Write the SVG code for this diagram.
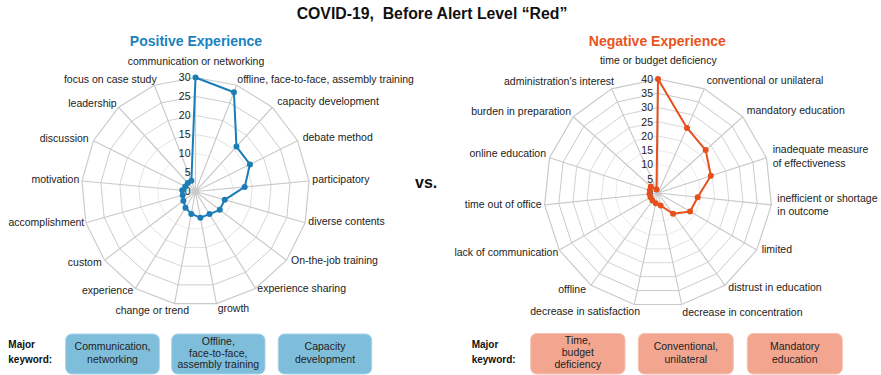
<svg xmlns="http://www.w3.org/2000/svg" xmlns:xlink="http://www.w3.org/1999/xlink" width="881" height="375" viewBox="0 0 881 375">
<style>
text{font-family:"Liberation Sans",Arial,Helvetica,sans-serif;fill:#222}
.t{font-size:15.8px;font-weight:bold;fill:#111;white-space:pre}
.h{font-size:14px;font-weight:bold}
.lb{font-size:10.5px}
.tk{font-size:10.5px;text-anchor:end}
.e{text-anchor:end}
.m{text-anchor:middle}
.g{fill:none;stroke:#c9c9c9;stroke-width:1;vector-effect:non-scaling-stroke}
.pos{fill:none;stroke:#1a7db7;stroke-width:2;stroke-linejoin:round}
.neg{fill:none;stroke:#e5501c;stroke-width:2;stroke-linejoin:round}
.kw{font-size:10px;font-weight:bold;fill:#111}
.bt{font-size:10.5px;text-anchor:middle;fill:#222}
.bb{fill:#7fbedb;stroke:#a8d3e8;stroke-width:1}
.br{fill:#f2a690;stroke:#f6c2b1;stroke-width:1}
</style>
<defs>
<polygon id="p17" points="0,-100 36.12,-93.25 67.37,-73.9 89.52,-44.57 99.57,-9.23 96.18,27.37 79.8,60.26 52.64,85.02 18.38,98.3 -18.38,98.3 -52.64,85.02 -79.8,60.26 -96.18,27.37 -99.57,-9.23 -89.52,-44.57 -67.37,-73.9 -36.12,-93.25"/>
<path id="s17" d="M0 0L0 -100M0 0L36.12 -93.25M0 0L67.37 -73.9M0 0L89.52 -44.57M0 0L99.57 -9.23M0 0L96.18 27.37M0 0L79.8 60.26M0 0L52.64 85.02M0 0L18.38 98.3M0 0L-18.38 98.3M0 0L-52.64 85.02M0 0L-79.8 60.26M0 0L-96.18 27.37M0 0L-99.57 -9.23M0 0L-89.52 -44.57M0 0L-67.37 -73.9M0 0L-36.12 -93.25"/>
<polygon id="p15" points="0,-100 40.67,-91.35 74.31,-66.91 95.11,-30.9 99.45,10.45 86.6,50 58.78,80.9 20.79,97.81 -20.79,97.81 -58.78,80.9 -86.6,50 -99.45,10.45 -95.11,-30.9 -74.31,-66.91 -40.67,-91.35"/>
<path id="s15" d="M0 0L0 -100M0 0L40.67 -91.35M0 0L74.31 -66.91M0 0L95.11 -30.9M0 0L99.45 10.45M0 0L86.6 50M0 0L58.78 80.9M0 0L20.79 97.81M0 0L-20.79 97.81M0 0L-58.78 80.9M0 0L-86.6 50M0 0L-99.45 10.45M0 0L-95.11 -30.9M0 0L-74.31 -66.91M0 0L-40.67 -91.35"/>
<circle id="dp" r="3" fill="#1a7db7"/>
<circle id="dn" r="3" fill="#e5501c"/>
</defs>
<rect width="881" height="375" fill="#fff"/>
<text class="t m" x="432" y="19">COVID-19,  Before Alert Level “Red”</text>

<g id="positive-chart">
<text class="h m" x="196" y="46" style="fill:#1a82bf">Positive Experience</text>
<g id="pos-grid" transform="translate(195.5 191.5)">
<use xlink:href="#s17" class="g" transform="scale(1.14)"/>
<use xlink:href="#p17" class="g" transform="scale(0.19)"/>
<use xlink:href="#p17" class="g" transform="scale(0.38)"/>
<use xlink:href="#p17" class="g" transform="scale(0.57)"/>
<use xlink:href="#p17" class="g" transform="scale(0.76)"/>
<use xlink:href="#p17" class="g" transform="scale(0.95)"/>
<use xlink:href="#p17" class="g" transform="scale(1.14)"/>
</g>
<g id="pos-ticks">
<text class="tk" x="190.5" y="195.3">0</text>
<text class="tk" x="190.5" y="176.3">5</text>
<text class="tk" x="190.5" y="157.3">10</text>
<text class="tk" x="190.5" y="138.3">15</text>
<text class="tk" x="190.5" y="119.3">20</text>
<text class="tk" x="190.5" y="100.3">25</text>
<text class="tk" x="190.5" y="81.3">30</text>
</g>
<g id="pos-series">
<polygon class="pos" points="195.5,77.5 233.94,92.29 236.46,146.57 249.93,164.4 244.69,186.94 224.74,199.82 219.76,209.82 209.5,214.12 200.39,217.65 191.31,213.91 185.5,207.65 183.37,200.66 182.71,195.14 182.26,190.27 185.3,186.42 187.82,183.08 191.38,180.87"/>
<use xlink:href="#dp" x="195.5" y="77.5"/><use xlink:href="#dp" x="233.94" y="92.29"/><use xlink:href="#dp" x="236.46" y="146.57"/><use xlink:href="#dp" x="249.93" y="164.4"/><use xlink:href="#dp" x="244.69" y="186.94"/><use xlink:href="#dp" x="224.74" y="199.82"/><use xlink:href="#dp" x="219.76" y="209.82"/><use xlink:href="#dp" x="209.5" y="214.12"/><use xlink:href="#dp" x="200.39" y="217.65"/><use xlink:href="#dp" x="191.31" y="213.91"/><use xlink:href="#dp" x="185.5" y="207.65"/><use xlink:href="#dp" x="183.37" y="200.66"/><use xlink:href="#dp" x="182.71" y="195.14"/><use xlink:href="#dp" x="182.26" y="190.27"/><use xlink:href="#dp" x="185.3" y="186.42"/><use xlink:href="#dp" x="187.82" y="183.08"/><use xlink:href="#dp" x="191.38" y="180.87"/>
</g>
<g id="pos-labels" class="lb">
<text class="lb m" x="196" y="65">communication or networking</text>
<text class="lb" x="237.3" y="82.7">offline, face-to-face, assembly training</text>
<text class="lb" x="277.3" y="105.3">capacity development</text>
<text class="lb" x="302.7" y="140.7">debate method</text>
<text class="lb" x="312.3" y="182.7">participatory</text>
<text class="lb" x="308.3" y="225.3">diverse contents</text>
<text class="lb" x="291" y="264">On-the-job training</text>
<text class="lb" x="257.3" y="292">experience sharing</text>
<text class="lb" x="217.7" y="312.3">growth</text>
<text class="lb e" x="189" y="314.3">change or trend</text>
<text class="lb e" x="133.3" y="294">experience</text>
<text class="lb e" x="101.7" y="266">custom</text>
<text class="lb e" x="84.3" y="226">accomplishment</text>
<text class="lb e" x="79.3" y="183.3">motivation</text>
<text class="lb e" x="88.7" y="142.3">discussion</text>
<text class="lb e" x="116.7" y="107.3">leadership</text>
<text class="lb e" x="156.7" y="83.3">focus on case study</text>
</g>
</g>

<text x="415" y="188.3" style="font-size:16px;font-weight:bold;fill:#111">vs.</text>

<g id="negative-chart">
<text class="h m" x="657.3" y="46" style="fill:#e8541e">Negative Experience</text>
<g id="neg-grid" transform="translate(658 193)">
<use xlink:href="#s15" class="g" transform="scale(1.14)"/>
<use xlink:href="#p15" class="g" transform="scale(0.1425)"/>
<use xlink:href="#p15" class="g" transform="scale(0.285)"/>
<use xlink:href="#p15" class="g" transform="scale(0.4275)"/>
<use xlink:href="#p15" class="g" transform="scale(0.57)"/>
<use xlink:href="#p15" class="g" transform="scale(0.7125)"/>
<use xlink:href="#p15" class="g" transform="scale(0.855)"/>
<use xlink:href="#p15" class="g" transform="scale(0.9975)"/>
<use xlink:href="#p15" class="g" transform="scale(1.14)"/>
</g>
<g id="neg-ticks">
<text class="tk" x="653" y="196.8">0</text>
<text class="tk" x="653" y="182.6">5</text>
<text class="tk" x="653" y="168.3">10</text>
<text class="tk" x="653" y="154.1">15</text>
<text class="tk" x="653" y="139.8">20</text>
<text class="tk" x="653" y="125.6">25</text>
<text class="tk" x="653" y="111.3">30</text>
<text class="tk" x="653" y="97.1">35</text>
<text class="tk" x="653" y="82.8">40</text>
</g>
<g id="neg-series">
<polygon class="neg" points="658,79 686.98,127.91 705.66,150.09 710.86,175.82 697.68,197.17 690.09,211.53 673.08,213.75 660.67,205.55 655.81,203.32 652.47,200.61 650.6,197.28 649.5,193.89 649.87,190.36 650.8,186.52 656.49,189.61"/>
<use xlink:href="#dn" x="658" y="79"/><use xlink:href="#dn" x="686.98" y="127.91"/><use xlink:href="#dn" x="705.66" y="150.09"/><use xlink:href="#dn" x="710.86" y="175.82"/><use xlink:href="#dn" x="697.68" y="197.17"/><use xlink:href="#dn" x="690.09" y="211.53"/><use xlink:href="#dn" x="673.08" y="213.75"/><use xlink:href="#dn" x="660.67" y="205.55"/><use xlink:href="#dn" x="655.81" y="203.32"/><use xlink:href="#dn" x="652.47" y="200.61"/><use xlink:href="#dn" x="650.6" y="197.28"/><use xlink:href="#dn" x="649.5" y="193.89"/><use xlink:href="#dn" x="649.87" y="190.36"/><use xlink:href="#dn" x="650.8" y="186.52"/><use xlink:href="#dn" x="656.49" y="189.61"/>
</g>
<g id="neg-labels">
<text class="lb m" x="658.3" y="64.3">time or budget deficiency</text>
<text class="lb" x="706.7" y="84">conventional or unilateral</text>
<text class="lb" x="746.7" y="114">mandatory education</text>
<text class="lb" x="772.7" y="152.7">inadequate measure</text>
<text class="lb" x="772.7" y="166.7">of effectiveness</text>
<text class="lb" x="777.3" y="202.3">inefficient or shortage</text>
<text class="lb" x="777.3" y="215">in outcome</text>
<text class="lb" x="761.7" y="252.7">limited</text>
<text class="lb" x="728.3" y="290.7">distrust in education</text>
<text class="lb" x="682.3" y="316">decrease in concentration</text>
<text class="lb e" x="640" y="315">decrease in satisfaction</text>
<text class="lb e" x="586" y="292.7">offline</text>
<text class="lb e" x="558.3" y="256">lack of communication</text>
<text class="lb e" x="541.7" y="207.7">time out of office</text>
<text class="lb e" x="546" y="157.3">online education</text>
<text class="lb e" x="571" y="115">burden in preparation</text>
<text class="lb e" x="614" y="85">administration's interest</text>
</g>
</g>

<g id="pos-keywords">
<text class="kw" x="8.3" y="348.3">Major</text>
<text class="kw" x="8.3" y="363.3">keyword:</text>
<g id="kw-pos-1"><rect class="bb" x="65.7" y="334" width="93.6" height="40" rx="6"/><text class="bt" x="112.5" y="350">Communication,</text><text class="bt" x="112.5" y="363.3">networking</text></g>
<g id="kw-pos-2"><rect class="bb" x="171.7" y="334" width="93.3" height="40" rx="6"/><text class="bt" x="218.3" y="345">Offline,</text><text class="bt" x="218.3" y="356.5">face-to-face,</text><text class="bt" x="218.3" y="368.3">assembly training</text></g>
<g id="kw-pos-3"><rect class="bb" x="278.3" y="334" width="93.4" height="40" rx="6"/><text class="bt" x="325" y="350">Capacity</text><text class="bt" x="325" y="363.3">development</text></g>
</g>
<g id="neg-keywords">
<text class="kw" x="471.7" y="348.3">Major</text>
<text class="kw" x="471.7" y="363.3">keyword:</text>
<g id="kw-neg-1"><rect class="br" x="530.7" y="333.5" width="94.3" height="40.5" rx="6"/><text class="bt" x="577.8" y="344">Time,</text><text class="bt" x="577.8" y="356.2">budget</text><text class="bt" x="577.8" y="368.3">deficiency</text></g>
<g id="kw-neg-2"><rect class="br" x="638.3" y="333.5" width="95" height="40.5" rx="6"/><text class="bt" x="685.8" y="350">Conventional,</text><text class="bt" x="685.8" y="363.3">unilateral</text></g>
<g id="kw-neg-3"><rect class="br" x="747.3" y="333.5" width="95" height="40.5" rx="6"/><text class="bt" x="794.8" y="350">Mandatory</text><text class="bt" x="794.8" y="363.3">education</text></g>
</g>
</svg>
